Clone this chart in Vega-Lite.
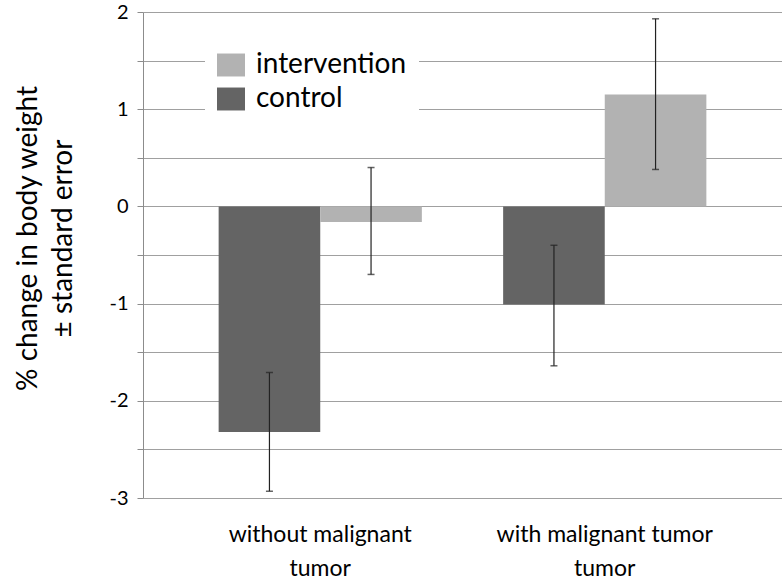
{
  "$schema": "https://vega.github.io/schema/vega-lite/v6.json",
  "width": 639,
  "height": 486,
  "autosize": {"type": "none"},
  "padding": {"left": 143, "top": 12, "right": 0, "bottom": 82},
  "background": "white",
  "config": {
    "font": "Lato",
    "view": {"stroke": null},
    "axis": {"labelFont": "Lato", "titleFont": "Lato"},
    "legend": {"labelFont": "Lato"}
  },
  "data": {
    "values": [
      {"group": "without malignant|tumor", "arm": "control", "value": -2.32, "low": -2.93, "high": -1.71},
      {"group": "without malignant|tumor", "arm": "intervention", "value": -0.16, "low": -0.70, "high": 0.40},
      {"group": "with malignant tumor|tumor", "arm": "control", "value": -1.01, "low": -1.64, "high": -0.40},
      {"group": "with malignant tumor|tumor", "arm": "intervention", "value": 1.15, "low": 0.38, "high": 1.93}
    ]
  },
  "encoding": {
    "x": {
      "field": "group",
      "type": "nominal",
      "sort": ["without malignant|tumor", "with malignant tumor|tumor"],
      "scale": {"paddingInner": 0, "paddingOuter": 0.123},
      "axis": {
        "title": null,
        "domain": false,
        "ticks": false,
        "grid": false,
        "labelAngle": 0,
        "labelFontSize": 23,
        "labelColor": "#000000",
        "labelPadding": 25,
        "labelLineHeight": 34,
        "labelLimit": 400,
        "labelExpr": "split(datum.label, '|')"
      }
    },
    "xOffset": {
      "field": "arm",
      "type": "nominal",
      "sort": ["control", "intervention"],
      "scale": {"paddingInner": 0, "paddingOuter": 0.4}
    }
  },
  "layer": [
    {
      "mark": {"type": "bar"},
      "encoding": {
        "y": {
          "field": "value",
          "type": "quantitative",
          "scale": {"domain": [-3, 2], "nice": false, "zero": false},
          "axis": {
            "values": [-3, -2.5, -2, -1.5, -1, -0.5, 0, 0.5, 1, 1.5, 2],
            "labelExpr": "datum.value % 1 == 0 ? '' + datum.value : ''",
            "labelFontSize": 20,
            "labelColor": "#000000",
            "labelPadding": 9,
            "tickSize": 6,
            "tickColor": "#8c8c8c",
            "domainColor": "#8c8c8c",
            "gridColor": "#a0a0a0",
            "gridWidth": 1,
            "title": ["% change in body weight", "± standard error"],
            "titleFontSize": 28,
            "titleFontWeight": "normal",
            "titleColor": "#000000",
            "titleLineHeight": 35,
            "titleAngle": 270,
            "titleBaseline": "middle",
            "titleAlign": "center",
            "titleX": -115,
            "titleY": 226
          }
        },
        "y2": {"datum": 0},
        "color": {
          "field": "arm",
          "type": "nominal",
          "scale": {"domain": ["intervention", "control"], "range": ["#b2b2b2", "#646464"]},
          "legend": {
            "title": null,
            "orient": "none",
            "legendX": 62,
            "legendY": 27,
            "padding": 12,
            "fillColor": "white",
            "symbolType": "M-1,-0.82H1V0.82H-1Z",
            "symbolSize": 784,
            "symbolStrokeWidth": 0,
            "labelFontSize": 28,
            "labelColor": "#000000",
            "labelOffset": 11,
            "rowPadding": 6,
            "labelLimit": 400
          }
        }
      }
    },
    {
      "mark": {"type": "rule", "color": "#222222", "strokeWidth": 1.2},
      "encoding": {
        "y": {"field": "low", "type": "quantitative"},
        "y2": {"field": "high"}
      }
    },
    {
      "mark": {"type": "tick", "color": "#222222", "thickness": 1.5, "size": 7},
      "encoding": {
        "y": {"field": "low", "type": "quantitative"}
      }
    },
    {
      "mark": {"type": "tick", "color": "#222222", "thickness": 1.5, "size": 7},
      "encoding": {
        "y": {"field": "high", "type": "quantitative"}
      }
    }
  ]
}
